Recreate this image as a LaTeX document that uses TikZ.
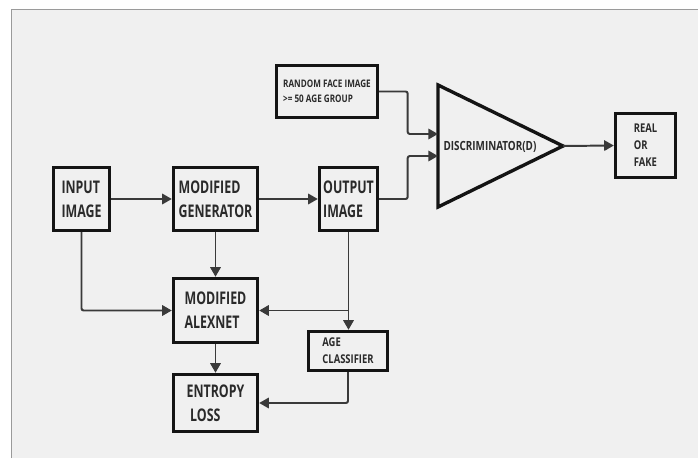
\documentclass[tikz,border=0pt]{standalone}
\usepackage{fontspec}
\usepackage{tikz}
\usetikzlibrary{arrows.meta,calc,positioning}
\newfontfamily\boxfont[FakeStretch=0.78]{Open Sans}
\newfontfamily\narrowboxfont[FakeStretch=0.71]{Open Sans}
\definecolor{pagebg}{HTML}{F0F0F0}
\definecolor{pageedge}{HTML}{9A9A9A}
\definecolor{inkline}{HTML}{3A3A3A}
\definecolor{inkbox}{HTML}{141414}
\definecolor{inktext}{HTML}{2A2A2A}
\tikzset{
  bigbox/.style={draw=inkbox, line width=2.4pt, align=left, inner sep=0pt, text=inktext,
    font=\narrowboxfont\bfseries\fontsize{12.4}{17}\selectfont},
  smallbox/.style={bigbox, font=\boxfont\bfseries\fontsize{7.4}{10.5}\selectfont},
  midbox/.style={bigbox, font=\boxfont\bfseries\fontsize{8.6}{12}\selectfont},
  arrow/.style={-{Triangle[length=2.4mm, width=2.6mm]}, line width=1.4pt, draw=inkline, rounded corners=1.5pt},
  plainline/.style={line width=1.4pt, draw=inkline, rounded corners=1.5pt}
}

\begin{document}
\begin{tikzpicture}[x=0.025cm, y=-0.025cm]
  % page
  \useasboundingbox (0,0) rectangle (698,460);
  \fill[white] (0,0) rectangle (698,460);
  \fill[pagebg] (11,9) rectangle (698,458);
  \draw[pageedge, line width=0.6pt] (11,458) -- (11,9) -- (698,9);

  % blocks
  \node[bigbox, minimum width=1.4cm, minimum height=1.575cm] (input) at (81.5,199) {INPUT\\IMAGE};
  \node[bigbox, minimum width=2.1cm, minimum height=1.575cm] (gen) at (215.5,199) {MODIFIED\\GENERATOR};
  \node[bigbox, minimum width=1.45cm, minimum height=1.575cm] (output) at (348.5,199) {OUTPUT\\IMAGE};
  \node[bigbox, minimum width=2.1cm, minimum height=1.6cm] (alexnet) at (215.5,310.5) {MODIFIED\\ALEXNET};
  \node[bigbox, minimum width=2.1cm, minimum height=1.425cm] (entropy) at (215.5,403) {ENTROPY\\\hspace*{2.5pt}LOSS};
  \node[midbox, minimum width=1.975cm, minimum height=0.975cm] (ageclf) at (348,351) {AGE\\CLASSIFIER};
  \node[smallbox, minimum width=2.525cm, minimum height=1.3cm] (random) at (327,91.5) {RANDOM FACE IMAGE\\>= 50 AGE GROUP};
  \node[midbox, minimum width=1.5cm, minimum height=1.6cm] (realfake) at (645.5,145.5) {REAL\\OR\\FAKE};

  % discriminator
  \coordinate (disc-top) at (438,85);
  \coordinate (disc-bot) at (438,207);
  \coordinate (disc-tip) at (563,146);
  \coordinate (disc-in1) at (438,134);
  \coordinate (disc-in2) at (438,156);
  \draw[inkbox, line width=2.4pt, line join=miter] (disc-top) -- (disc-tip) -- (disc-bot) -- cycle;
  \node[text=inktext, font=\boxfont\bfseries\fontsize{9}{11}\selectfont] (disc) at (490,147) {DISCRIMINATOR(D)};

  % connectors
  \coordinate (split) at (output.south |- alexnet.east);
  \draw[arrow] (input) -- (gen);
  \draw[arrow] (gen) -- (output);
  \draw[arrow] (gen) -- (alexnet);
  \draw[arrow] (input) |- (alexnet);
  \draw[arrow] (output.south) -- (output.south |- ageclf.north);
  \draw[arrow] (split) -- (alexnet.east);
  \draw[arrow] (alexnet) -- (entropy);
  \draw[arrow] (ageclf.south) |- (entropy.east);
  \draw[arrow] (random.east) -- ++(28.5,0) |- (disc-in1);
  \draw[arrow] (output.east) -- ++(28.5,0) |- (disc-in2);
  \draw[arrow] (disc-tip) -- (realfake.west);
\end{tikzpicture}
\end{document}
